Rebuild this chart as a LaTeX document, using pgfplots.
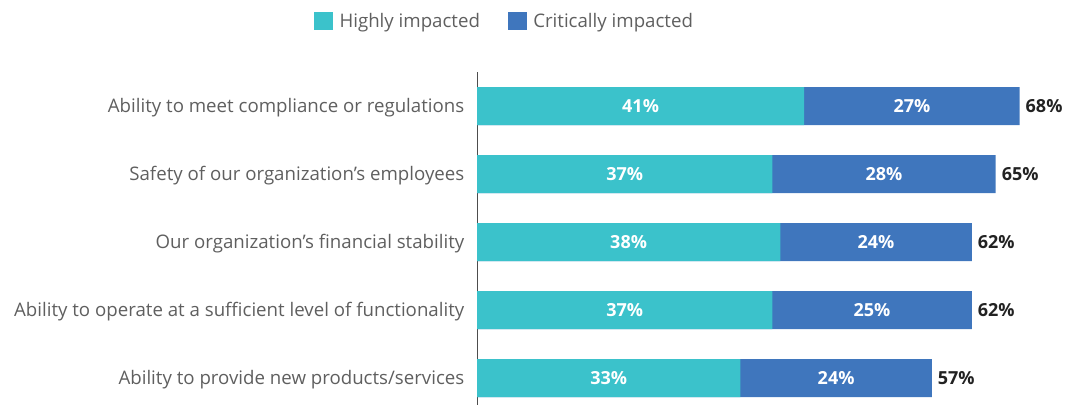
\documentclass[border=0pt]{standalone}
\usepackage{fontspec}
\setmainfont{Open Sans}
\usepackage{pgfplots}
\usepackage{pgfplotstable}
\pgfplotsset{compat=1.18}

\definecolor{high}{HTML}{3BC2CB}
\definecolor{crit}{HTML}{3F76BD}
\definecolor{labgray}{HTML}{5F5F5F}
\definecolor{totdark}{HTML}{222222}
\definecolor{axgray}{HTML}{4D4D4D}

\pgfplotstableread{
idx high crit total
0 41 27 68
1 37 28 65
2 38 24 62
3 37 25 62
4 33 24 57
}\impact

\begin{document}
\begin{tikzpicture}
\useasboundingbox (0,0) rectangle (802.5pt,-304.5pt);
\begin{axis}[
  at={(357.75pt,-54pt)}, anchor=north west,
  scale only axis,
  width=448.9pt, height=249.9pt,
  xmin=0, xmax=75,
  ymin=-0.5, ymax=4.4,
  y dir=reverse,
  axis x line=none,
  axis y line=left,
  axis line style={draw=axgray, line width=0.75pt, -},
  ytick={0,...,4},
  yticklabels={
    Ability to meet compliance or regulations,
    Safety of our organization’s employees,
    Our organization’s financial stability,
    Ability to operate at a sufficient level of functionality,
    Ability to provide new products/services},
  major tick length=0pt,
  yticklabel style={font=\fontsize{14}{16}\selectfont, text=labgray,
    xshift=-6pt, yshift=-1.5pt},
  legend columns=2,
  reverse legend,
  legend style={draw=none, fill=none, at={(0.05,1.153)}, anchor=center,
    font=\fontsize{14}{16}\selectfont, text=labgray,
    nodes={inner xsep=5pt},
    /tikz/every even column/.append style={column sep=16pt}},
  legend image code/.code={\fill (0pt,-7pt) rectangle (14pt,7pt);},
  clip=false,
]
\addplot[xbar, bar shift=0pt, bar width=28.5pt, fill=crit, draw=none]
  table[x=total, y=idx] {\impact};
\addlegendentry{Critically impacted}
\addplot[xbar, bar shift=0pt, bar width=28.5pt, fill=high, draw=none]
  table[x=high, y=idx] {\impact};
\addlegendentry{Highly impacted}
% segment labels
\addplot[draw=none, mark=none, forget plot, point meta=explicit symbolic,
  nodes near coords={\pgfplotspointmeta\%},
  every node near coord/.append style={anchor=center, text=white,
    font=\bfseries\fontsize{13.5}{15}\selectfont}]
  table[x expr=\thisrow{high}/2, y=idx, meta=high] {\impact};
\addplot[draw=none, mark=none, forget plot, point meta=explicit symbolic,
  nodes near coords={\pgfplotspointmeta\%},
  every node near coord/.append style={anchor=center, text=white,
    font=\bfseries\fontsize{13.5}{15}\selectfont}]
  table[x expr=\thisrow{high}+\thisrow{crit}/2, y=idx, meta=crit] {\impact};
\addplot[draw=none, mark=none, forget plot, point meta=explicit symbolic,
  nodes near coords={\pgfplotspointmeta\%},
  every node near coord/.append style={anchor=west, xshift=1pt, text=totdark,
    font=\bfseries\fontsize{13.5}{15}\selectfont}]
  table[x=total, y=idx, meta=total] {\impact};
\end{axis}
\end{tikzpicture}
\end{document}
